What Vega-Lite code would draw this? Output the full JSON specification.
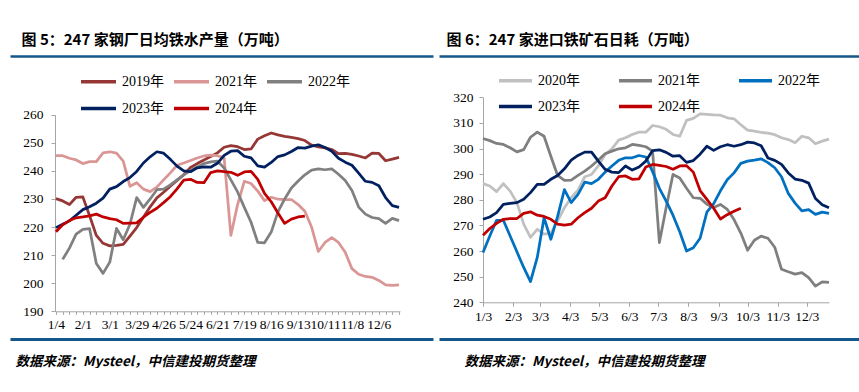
{
"$schema": "https://vega.github.io/schema/vega-lite/v6.json",
"background": "white",
"padding": {"left": 7, "top": 32, "right": 0, "bottom": 0},
"spacing": 0,
"resolve": {"scale": {"color": "independent"}, "legend": {"color": "independent"}},
"config": {
  "view": {"stroke": null},
  "axis": {"labelFont": "Liberation Serif, Noto Sans CJK SC", "labelFontSize": 13.5, "labelColor": "#000000", "domainColor": "#A6A6A6", "tickColor": "#A6A6A6", "grid": false},
  "legend": {"labelFont": "Liberation Serif, Noto Sans CJK SC", "labelFontSize": 14, "labelColor": "#000000", "symbolType": "stroke", "symbolSize": 1225, "symbolStrokeWidth": 3.5, "labelOffset": 4, "padding": 0}
},
"datasets": {
"left": [
{"s":"2019年","d":"2023-01-04","v":230.1},{"s":"2019年","d":"2023-01-11","v":229.3},{"s":"2019年","d":"2023-01-18","v":228.0},{"s":"2019年","d":"2023-01-25","v":230.6},{"s":"2019年","d":"2023-02-01","v":230.7},{"s":"2019年","d":"2023-02-08","v":224.0},{"s":"2019年","d":"2023-02-15","v":217.0},{"s":"2019年","d":"2023-02-22","v":214.2},{"s":"2019年","d":"2023-03-01","v":213.3},{"s":"2019年","d":"2023-03-08","v":213.5},{"s":"2019年","d":"2023-03-15","v":213.8},{"s":"2019年","d":"2023-03-22","v":216.8},{"s":"2019年","d":"2023-03-29","v":219.8},{"s":"2019年","d":"2023-04-05","v":223.5},{"s":"2019年","d":"2023-04-12","v":227.2},{"s":"2019年","d":"2023-04-19","v":230.4},{"s":"2019年","d":"2023-04-26","v":232.4},{"s":"2019年","d":"2023-05-03","v":234.5},{"s":"2019年","d":"2023-05-10","v":236.6},{"s":"2019年","d":"2023-05-17","v":238.6},{"s":"2019年","d":"2023-05-24","v":241.2},{"s":"2019年","d":"2023-05-31","v":242.6},{"s":"2019年","d":"2023-06-07","v":243.9},{"s":"2019年","d":"2023-06-14","v":245.1},{"s":"2019年","d":"2023-06-21","v":246.4},{"s":"2019年","d":"2023-06-28","v":248.4},{"s":"2019年","d":"2023-07-05","v":249.0},{"s":"2019年","d":"2023-07-12","v":248.6},{"s":"2019年","d":"2023-07-19","v":247.6},{"s":"2019年","d":"2023-07-26","v":247.8},{"s":"2019年","d":"2023-08-02","v":251.3},{"s":"2019年","d":"2023-08-09","v":252.5},{"s":"2019年","d":"2023-08-16","v":253.5},{"s":"2019年","d":"2023-08-23","v":252.8},{"s":"2019年","d":"2023-08-30","v":252.3},{"s":"2019年","d":"2023-09-06","v":251.9},{"s":"2019年","d":"2023-09-13","v":251.5},{"s":"2019年","d":"2023-09-20","v":250.8},{"s":"2019年","d":"2023-09-27","v":249.2},{"s":"2019年","d":"2023-10-04","v":248.5},{"s":"2019年","d":"2023-10-11","v":248.2},{"s":"2019年","d":"2023-10-18","v":247.6},{"s":"2019年","d":"2023-10-25","v":246.1},{"s":"2019年","d":"2023-11-01","v":246.2},{"s":"2019年","d":"2023-11-08","v":245.9},{"s":"2019年","d":"2023-11-15","v":245.3},{"s":"2019年","d":"2023-11-22","v":244.6},{"s":"2019年","d":"2023-11-29","v":246.3},{"s":"2019年","d":"2023-12-06","v":246.2},{"s":"2019年","d":"2023-12-13","v":243.6},{"s":"2019年","d":"2023-12-20","v":244.2},{"s":"2019年","d":"2023-12-27","v":244.8},
{"s":"2021年","d":"2023-01-04","v":245.4},{"s":"2021年","d":"2023-01-11","v":245.4},{"s":"2021年","d":"2023-01-18","v":244.5},{"s":"2021年","d":"2023-01-25","v":243.9},{"s":"2021年","d":"2023-02-01","v":242.6},{"s":"2021年","d":"2023-02-08","v":243.3},{"s":"2021年","d":"2023-02-15","v":243.3},{"s":"2021年","d":"2023-02-22","v":246.4},{"s":"2021年","d":"2023-03-01","v":246.8},{"s":"2021年","d":"2023-03-08","v":246.3},{"s":"2021年","d":"2023-03-15","v":243.5},{"s":"2021年","d":"2023-03-22","v":234.5},{"s":"2021年","d":"2023-03-29","v":235.8},{"s":"2021年","d":"2023-04-05","v":233.5},{"s":"2021年","d":"2023-04-12","v":232.6},{"s":"2021年","d":"2023-04-19","v":234.2},{"s":"2021年","d":"2023-04-26","v":236.8},{"s":"2021年","d":"2023-05-03","v":239.3},{"s":"2021年","d":"2023-05-10","v":242.0},{"s":"2021年","d":"2023-05-17","v":242.8},{"s":"2021年","d":"2023-05-24","v":243.7},{"s":"2021年","d":"2023-05-31","v":244.6},{"s":"2021年","d":"2023-06-07","v":245.3},{"s":"2021年","d":"2023-06-14","v":245.6},{"s":"2021年","d":"2023-06-21","v":245.4},{"s":"2021年","d":"2023-06-28","v":244.7},{"s":"2021年","d":"2023-07-05","v":217.0},{"s":"2021年","d":"2023-07-12","v":228.0},{"s":"2021年","d":"2023-07-19","v":236.3},{"s":"2021年","d":"2023-07-26","v":235.5},{"s":"2021年","d":"2023-08-02","v":232.8},{"s":"2021年","d":"2023-08-09","v":229.4},{"s":"2021年","d":"2023-08-16","v":230.6},{"s":"2021年","d":"2023-08-23","v":229.9},{"s":"2021年","d":"2023-08-30","v":229.8},{"s":"2021年","d":"2023-09-06","v":229.8},{"s":"2021年","d":"2023-09-13","v":228.0},{"s":"2021年","d":"2023-09-20","v":225.6},{"s":"2021年","d":"2023-09-27","v":220.0},{"s":"2021年","d":"2023-10-04","v":211.3},{"s":"2021年","d":"2023-10-11","v":214.5},{"s":"2021年","d":"2023-10-18","v":216.2},{"s":"2021年","d":"2023-10-25","v":214.5},{"s":"2021年","d":"2023-11-01","v":211.0},{"s":"2021年","d":"2023-11-08","v":205.2},{"s":"2021年","d":"2023-11-15","v":203.2},{"s":"2021年","d":"2023-11-22","v":202.4},{"s":"2021年","d":"2023-11-29","v":202.1},{"s":"2021年","d":"2023-12-06","v":201.0},{"s":"2021年","d":"2023-12-13","v":199.4},{"s":"2021年","d":"2023-12-20","v":199.2},{"s":"2021年","d":"2023-12-27","v":199.4},
{"s":"2022年","d":"2023-01-11","v":208.5},{"s":"2022年","d":"2023-01-18","v":212.5},{"s":"2022年","d":"2023-01-25","v":217.5},{"s":"2022年","d":"2023-02-01","v":219.2},{"s":"2022年","d":"2023-02-08","v":219.4},{"s":"2022年","d":"2023-02-15","v":207.0},{"s":"2022年","d":"2023-02-22","v":203.5},{"s":"2022年","d":"2023-03-01","v":207.5},{"s":"2022年","d":"2023-03-08","v":219.5},{"s":"2022年","d":"2023-03-15","v":215.5},{"s":"2022年","d":"2023-03-22","v":221.0},{"s":"2022年","d":"2023-03-29","v":230.5},{"s":"2022年","d":"2023-04-05","v":227.0},{"s":"2022年","d":"2023-04-12","v":230.0},{"s":"2022年","d":"2023-04-19","v":233.3},{"s":"2022年","d":"2023-04-26","v":233.5},{"s":"2022年","d":"2023-05-03","v":235.0},{"s":"2022年","d":"2023-05-10","v":236.8},{"s":"2022年","d":"2023-05-17","v":238.6},{"s":"2022年","d":"2023-05-24","v":240.1},{"s":"2022年","d":"2023-05-31","v":241.4},{"s":"2022年","d":"2023-06-07","v":242.6},{"s":"2022年","d":"2023-06-14","v":243.2},{"s":"2022年","d":"2023-06-21","v":243.5},{"s":"2022年","d":"2023-06-28","v":241.0},{"s":"2022年","d":"2023-07-05","v":236.8},{"s":"2022年","d":"2023-07-12","v":232.5},{"s":"2022年","d":"2023-07-19","v":227.0},{"s":"2022年","d":"2023-07-26","v":221.7},{"s":"2022年","d":"2023-08-02","v":214.5},{"s":"2022年","d":"2023-08-09","v":214.4},{"s":"2022年","d":"2023-08-16","v":218.2},{"s":"2022年","d":"2023-08-23","v":225.4},{"s":"2022年","d":"2023-08-30","v":230.0},{"s":"2022年","d":"2023-09-06","v":233.9},{"s":"2022年","d":"2023-09-13","v":236.4},{"s":"2022年","d":"2023-09-20","v":238.6},{"s":"2022年","d":"2023-09-27","v":240.3},{"s":"2022年","d":"2023-10-04","v":240.7},{"s":"2022年","d":"2023-10-11","v":240.4},{"s":"2022年","d":"2023-10-18","v":240.7},{"s":"2022年","d":"2023-10-25","v":238.8},{"s":"2022年","d":"2023-11-01","v":236.6},{"s":"2022年","d":"2023-11-08","v":233.0},{"s":"2022年","d":"2023-11-15","v":227.1},{"s":"2022年","d":"2023-11-22","v":224.6},{"s":"2022年","d":"2023-11-29","v":223.4},{"s":"2022年","d":"2023-12-06","v":223.0},{"s":"2022年","d":"2023-12-13","v":221.3},{"s":"2022年","d":"2023-12-20","v":223.1},{"s":"2022年","d":"2023-12-27","v":222.3},
{"s":"2023年","d":"2023-01-04","v":219.8},{"s":"2023年","d":"2023-01-11","v":221.0},{"s":"2023年","d":"2023-01-18","v":222.2},{"s":"2023年","d":"2023-01-25","v":224.2},{"s":"2023年","d":"2023-02-01","v":226.2},{"s":"2023年","d":"2023-02-08","v":227.2},{"s":"2023年","d":"2023-02-15","v":228.5},{"s":"2023年","d":"2023-02-22","v":230.3},{"s":"2023年","d":"2023-03-01","v":233.5},{"s":"2023年","d":"2023-03-08","v":234.4},{"s":"2023年","d":"2023-03-15","v":236.2},{"s":"2023年","d":"2023-03-22","v":237.6},{"s":"2023年","d":"2023-03-29","v":239.8},{"s":"2023年","d":"2023-04-05","v":242.8},{"s":"2023年","d":"2023-04-12","v":245.0},{"s":"2023年","d":"2023-04-19","v":246.8},{"s":"2023年","d":"2023-04-26","v":246.3},{"s":"2023年","d":"2023-05-03","v":244.1},{"s":"2023年","d":"2023-05-10","v":241.7},{"s":"2023年","d":"2023-05-17","v":240.0},{"s":"2023年","d":"2023-05-24","v":239.7},{"s":"2023年","d":"2023-05-31","v":241.1},{"s":"2023年","d":"2023-06-07","v":241.4},{"s":"2023年","d":"2023-06-14","v":241.3},{"s":"2023年","d":"2023-06-21","v":242.7},{"s":"2023年","d":"2023-06-28","v":245.5},{"s":"2023年","d":"2023-07-05","v":247.0},{"s":"2023年","d":"2023-07-12","v":247.2},{"s":"2023年","d":"2023-07-19","v":245.2},{"s":"2023年","d":"2023-07-26","v":244.6},{"s":"2023年","d":"2023-08-02","v":241.8},{"s":"2023年","d":"2023-08-09","v":241.3},{"s":"2023年","d":"2023-08-16","v":243.0},{"s":"2023年","d":"2023-08-23","v":245.1},{"s":"2023年","d":"2023-08-30","v":245.7},{"s":"2023年","d":"2023-09-06","v":246.9},{"s":"2023年","d":"2023-09-13","v":248.3},{"s":"2023年","d":"2023-09-20","v":248.1},{"s":"2023年","d":"2023-09-27","v":248.8},{"s":"2023年","d":"2023-10-04","v":249.3},{"s":"2023年","d":"2023-10-11","v":248.3},{"s":"2023年","d":"2023-10-18","v":247.0},{"s":"2023年","d":"2023-10-25","v":244.5},{"s":"2023年","d":"2023-11-01","v":243.1},{"s":"2023年","d":"2023-11-08","v":242.0},{"s":"2023年","d":"2023-11-15","v":239.2},{"s":"2023年","d":"2023-11-22","v":236.3},{"s":"2023年","d":"2023-11-29","v":235.9},{"s":"2023年","d":"2023-12-06","v":234.7},{"s":"2023年","d":"2023-12-13","v":230.5},{"s":"2023年","d":"2023-12-20","v":227.6},{"s":"2023年","d":"2023-12-27","v":227.0},
{"s":"2024年","d":"2023-01-04","v":218.3},{"s":"2024年","d":"2023-01-11","v":220.8},{"s":"2024年","d":"2023-01-18","v":222.3},{"s":"2024年","d":"2023-01-25","v":223.3},{"s":"2024年","d":"2023-02-01","v":223.6},{"s":"2024年","d":"2023-02-08","v":224.0},{"s":"2024年","d":"2023-02-15","v":224.6},{"s":"2024年","d":"2023-02-22","v":223.6},{"s":"2024年","d":"2023-03-01","v":223.0},{"s":"2024年","d":"2023-03-08","v":222.6},{"s":"2024年","d":"2023-03-15","v":221.3},{"s":"2024年","d":"2023-03-22","v":221.4},{"s":"2024年","d":"2023-03-29","v":221.5},{"s":"2024年","d":"2023-04-05","v":223.5},{"s":"2024年","d":"2023-04-12","v":225.2},{"s":"2024年","d":"2023-04-19","v":226.7},{"s":"2024年","d":"2023-04-26","v":228.7},{"s":"2024年","d":"2023-05-03","v":230.8},{"s":"2024年","d":"2023-05-10","v":233.6},{"s":"2024年","d":"2023-05-17","v":236.7},{"s":"2024年","d":"2023-05-24","v":237.0},{"s":"2024年","d":"2023-05-31","v":235.9},{"s":"2024年","d":"2023-06-07","v":235.8},{"s":"2024年","d":"2023-06-14","v":239.4},{"s":"2024年","d":"2023-06-21","v":240.0},{"s":"2024年","d":"2023-06-28","v":239.7},{"s":"2024年","d":"2023-07-05","v":239.5},{"s":"2024年","d":"2023-07-12","v":238.4},{"s":"2024年","d":"2023-07-19","v":239.6},{"s":"2024年","d":"2023-07-26","v":239.8},{"s":"2024年","d":"2023-08-02","v":237.0},{"s":"2024年","d":"2023-08-09","v":232.0},{"s":"2024年","d":"2023-08-16","v":229.0},{"s":"2024年","d":"2023-08-23","v":225.0},{"s":"2024年","d":"2023-08-30","v":221.3},{"s":"2024年","d":"2023-09-06","v":222.8},{"s":"2024年","d":"2023-09-13","v":223.6},{"s":"2024年","d":"2023-09-20","v":223.9}
],
"right": [
{"s":"2020年","d":"2023-01-03","v":286.3},{"s":"2020年","d":"2023-01-10","v":285.4},{"s":"2020年","d":"2023-01-17","v":283.2},{"s":"2020年","d":"2023-01-24","v":286.3},{"s":"2020年","d":"2023-01-31","v":283.4},{"s":"2020年","d":"2023-02-07","v":278.9},{"s":"2020年","d":"2023-02-14","v":270.5},{"s":"2020年","d":"2023-02-21","v":265.3},{"s":"2020年","d":"2023-02-28","v":268.5},{"s":"2020年","d":"2023-03-07","v":266.6},{"s":"2020年","d":"2023-03-14","v":267.0},{"s":"2020年","d":"2023-03-21","v":271.8},{"s":"2020年","d":"2023-03-28","v":276.9},{"s":"2020年","d":"2023-04-04","v":280.8},{"s":"2020年","d":"2023-04-11","v":283.8},{"s":"2020年","d":"2023-04-18","v":289.0},{"s":"2020年","d":"2023-04-25","v":289.9},{"s":"2020年","d":"2023-05-02","v":293.2},{"s":"2020年","d":"2023-05-09","v":297.7},{"s":"2020年","d":"2023-05-16","v":299.9},{"s":"2020年","d":"2023-05-23","v":303.3},{"s":"2020年","d":"2023-05-30","v":304.2},{"s":"2020年","d":"2023-06-06","v":305.5},{"s":"2020年","d":"2023-06-13","v":306.4},{"s":"2020年","d":"2023-06-20","v":306.4},{"s":"2020年","d":"2023-06-27","v":309.0},{"s":"2020年","d":"2023-07-04","v":308.5},{"s":"2020年","d":"2023-07-11","v":307.5},{"s":"2020年","d":"2023-07-18","v":305.5},{"s":"2020年","d":"2023-07-25","v":304.8},{"s":"2020年","d":"2023-08-01","v":311.0},{"s":"2020年","d":"2023-08-08","v":311.8},{"s":"2020年","d":"2023-08-15","v":313.5},{"s":"2020年","d":"2023-08-22","v":313.3},{"s":"2020年","d":"2023-08-29","v":313.1},{"s":"2020年","d":"2023-09-05","v":313.0},{"s":"2020年","d":"2023-09-12","v":312.0},{"s":"2020年","d":"2023-09-19","v":311.6},{"s":"2020年","d":"2023-09-26","v":309.3},{"s":"2020年","d":"2023-10-03","v":307.2},{"s":"2020年","d":"2023-10-10","v":306.8},{"s":"2020年","d":"2023-10-17","v":306.3},{"s":"2020年","d":"2023-10-24","v":306.0},{"s":"2020年","d":"2023-10-31","v":305.4},{"s":"2020年","d":"2023-11-07","v":304.2},{"s":"2020年","d":"2023-11-14","v":303.5},{"s":"2020年","d":"2023-11-21","v":302.3},{"s":"2020年","d":"2023-11-28","v":304.8},{"s":"2020年","d":"2023-12-05","v":304.2},{"s":"2020年","d":"2023-12-12","v":301.9},{"s":"2020年","d":"2023-12-19","v":302.9},{"s":"2020年","d":"2023-12-26","v":303.7},
{"s":"2021年","d":"2023-01-03","v":303.9},{"s":"2021年","d":"2023-01-10","v":303.1},{"s":"2021年","d":"2023-01-17","v":302.0},{"s":"2021年","d":"2023-01-24","v":301.6},{"s":"2021年","d":"2023-01-31","v":300.3},{"s":"2021年","d":"2023-02-07","v":298.7},{"s":"2021年","d":"2023-02-14","v":299.6},{"s":"2021年","d":"2023-02-21","v":304.4},{"s":"2021年","d":"2023-02-28","v":306.4},{"s":"2021年","d":"2023-03-07","v":304.8},{"s":"2021年","d":"2023-03-14","v":297.0},{"s":"2021年","d":"2023-03-21","v":289.5},{"s":"2021年","d":"2023-03-28","v":287.6},{"s":"2021年","d":"2023-04-04","v":287.7},{"s":"2021年","d":"2023-04-11","v":289.5},{"s":"2021年","d":"2023-04-18","v":291.2},{"s":"2021年","d":"2023-04-25","v":293.2},{"s":"2021年","d":"2023-05-02","v":295.5},{"s":"2021年","d":"2023-05-09","v":298.0},{"s":"2021年","d":"2023-05-16","v":299.0},{"s":"2021年","d":"2023-05-23","v":299.9},{"s":"2021年","d":"2023-05-30","v":300.3},{"s":"2021年","d":"2023-06-06","v":301.6},{"s":"2021年","d":"2023-06-13","v":301.2},{"s":"2021年","d":"2023-06-20","v":300.7},{"s":"2021年","d":"2023-06-27","v":299.0},{"s":"2021年","d":"2023-07-04","v":263.3},{"s":"2021年","d":"2023-07-11","v":277.0},{"s":"2021年","d":"2023-07-18","v":289.9},{"s":"2021年","d":"2023-07-25","v":288.5},{"s":"2021年","d":"2023-08-01","v":284.5},{"s":"2021年","d":"2023-08-08","v":280.8},{"s":"2021年","d":"2023-08-15","v":280.6},{"s":"2021年","d":"2023-08-22","v":278.3},{"s":"2021年","d":"2023-08-29","v":277.0},{"s":"2021年","d":"2023-09-05","v":278.2},{"s":"2021年","d":"2023-09-12","v":276.3},{"s":"2021年","d":"2023-09-19","v":272.3},{"s":"2021年","d":"2023-09-26","v":267.0},{"s":"2021年","d":"2023-10-03","v":260.3},{"s":"2021年","d":"2023-10-10","v":264.2},{"s":"2021年","d":"2023-10-17","v":265.8},{"s":"2021年","d":"2023-10-24","v":265.0},{"s":"2021年","d":"2023-10-31","v":261.5},{"s":"2021年","d":"2023-11-07","v":252.9},{"s":"2021年","d":"2023-11-14","v":251.9},{"s":"2021年","d":"2023-11-21","v":251.0},{"s":"2021年","d":"2023-11-28","v":251.6},{"s":"2021年","d":"2023-12-05","v":249.6},{"s":"2021年","d":"2023-12-12","v":246.3},{"s":"2021年","d":"2023-12-19","v":248.0},{"s":"2021年","d":"2023-12-26","v":247.8},
{"s":"2022年","d":"2023-01-03","v":259.4},{"s":"2022年","d":"2023-01-10","v":265.9},{"s":"2022年","d":"2023-01-17","v":272.0},{"s":"2022年","d":"2023-01-24","v":272.0},{"s":"2022年","d":"2023-01-31","v":265.9},{"s":"2022年","d":"2023-02-07","v":259.7},{"s":"2022年","d":"2023-02-14","v":253.6},{"s":"2022年","d":"2023-02-21","v":248.1},{"s":"2022年","d":"2023-02-28","v":257.5},{"s":"2022年","d":"2023-03-07","v":273.0},{"s":"2022年","d":"2023-03-14","v":264.6},{"s":"2022年","d":"2023-03-21","v":273.5},{"s":"2022年","d":"2023-03-28","v":284.0},{"s":"2022年","d":"2023-04-04","v":278.9},{"s":"2022年","d":"2023-04-11","v":282.1},{"s":"2022年","d":"2023-04-18","v":286.9},{"s":"2022年","d":"2023-04-25","v":286.3},{"s":"2022年","d":"2023-05-02","v":288.0},{"s":"2022年","d":"2023-05-09","v":290.8},{"s":"2022年","d":"2023-05-16","v":293.2},{"s":"2022年","d":"2023-05-23","v":295.4},{"s":"2022年","d":"2023-05-30","v":296.4},{"s":"2022年","d":"2023-06-06","v":296.4},{"s":"2022年","d":"2023-06-13","v":297.3},{"s":"2022年","d":"2023-06-20","v":296.7},{"s":"2022年","d":"2023-06-27","v":291.0},{"s":"2022年","d":"2023-07-04","v":284.5},{"s":"2022年","d":"2023-07-11","v":279.5},{"s":"2022年","d":"2023-07-18","v":274.0},{"s":"2022年","d":"2023-07-25","v":267.5},{"s":"2022年","d":"2023-08-01","v":260.0},{"s":"2022年","d":"2023-08-08","v":261.3},{"s":"2022年","d":"2023-08-15","v":265.0},{"s":"2022年","d":"2023-08-22","v":275.2},{"s":"2022年","d":"2023-08-29","v":278.5},{"s":"2022年","d":"2023-09-05","v":283.5},{"s":"2022年","d":"2023-09-12","v":287.8},{"s":"2022年","d":"2023-09-19","v":290.5},{"s":"2022年","d":"2023-09-26","v":294.2},{"s":"2022年","d":"2023-10-03","v":295.1},{"s":"2022年","d":"2023-10-10","v":295.5},{"s":"2022年","d":"2023-10-17","v":296.0},{"s":"2022年","d":"2023-10-24","v":294.5},{"s":"2022年","d":"2023-10-31","v":292.5},{"s":"2022年","d":"2023-11-07","v":289.0},{"s":"2022年","d":"2023-11-14","v":282.5},{"s":"2022年","d":"2023-11-21","v":278.7},{"s":"2022年","d":"2023-11-28","v":275.7},{"s":"2022年","d":"2023-12-05","v":276.2},{"s":"2022年","d":"2023-12-12","v":274.3},{"s":"2022年","d":"2023-12-19","v":275.2},{"s":"2022年","d":"2023-12-26","v":274.7},
{"s":"2023年","d":"2023-01-03","v":272.4},{"s":"2023年","d":"2023-01-10","v":273.3},{"s":"2023年","d":"2023-01-17","v":275.0},{"s":"2023年","d":"2023-01-24","v":278.2},{"s":"2023年","d":"2023-01-31","v":278.6},{"s":"2023年","d":"2023-02-07","v":278.9},{"s":"2023年","d":"2023-02-14","v":280.2},{"s":"2023年","d":"2023-02-21","v":282.8},{"s":"2023年","d":"2023-02-28","v":286.0},{"s":"2023年","d":"2023-03-07","v":286.0},{"s":"2023年","d":"2023-03-14","v":288.0},{"s":"2023年","d":"2023-03-21","v":289.5},{"s":"2023年","d":"2023-03-28","v":292.1},{"s":"2023年","d":"2023-04-04","v":295.5},{"s":"2023年","d":"2023-04-11","v":297.3},{"s":"2023年","d":"2023-04-18","v":298.6},{"s":"2023年","d":"2023-04-25","v":298.6},{"s":"2023年","d":"2023-05-02","v":295.1},{"s":"2023年","d":"2023-05-09","v":291.9},{"s":"2023年","d":"2023-05-16","v":290.8},{"s":"2023年","d":"2023-05-23","v":290.6},{"s":"2023年","d":"2023-05-30","v":293.2},{"s":"2023年","d":"2023-06-06","v":291.6},{"s":"2023年","d":"2023-06-13","v":292.8},{"s":"2023年","d":"2023-06-20","v":295.1},{"s":"2023年","d":"2023-06-27","v":299.2},{"s":"2023年","d":"2023-07-04","v":299.5},{"s":"2023年","d":"2023-07-11","v":298.5},{"s":"2023年","d":"2023-07-18","v":297.0},{"s":"2023年","d":"2023-07-25","v":297.2},{"s":"2023年","d":"2023-08-01","v":294.6},{"s":"2023年","d":"2023-08-08","v":295.3},{"s":"2023年","d":"2023-08-15","v":297.8},{"s":"2023年","d":"2023-08-22","v":300.9},{"s":"2023年","d":"2023-08-29","v":299.3},{"s":"2023年","d":"2023-09-05","v":300.7},{"s":"2023年","d":"2023-09-12","v":301.5},{"s":"2023年","d":"2023-09-19","v":300.9},{"s":"2023年","d":"2023-09-26","v":301.5},{"s":"2023年","d":"2023-10-03","v":302.5},{"s":"2023年","d":"2023-10-10","v":302.2},{"s":"2023年","d":"2023-10-17","v":301.1},{"s":"2023年","d":"2023-10-24","v":296.3},{"s":"2023年","d":"2023-10-31","v":295.4},{"s":"2023年","d":"2023-11-07","v":293.8},{"s":"2023年","d":"2023-11-14","v":290.5},{"s":"2023年","d":"2023-11-21","v":288.1},{"s":"2023年","d":"2023-11-28","v":287.6},{"s":"2023年","d":"2023-12-05","v":286.5},{"s":"2023年","d":"2023-12-12","v":280.5},{"s":"2023年","d":"2023-12-19","v":278.1},{"s":"2023年","d":"2023-12-26","v":276.9},
{"s":"2024年","d":"2023-01-03","v":266.2},{"s":"2024年","d":"2023-01-10","v":268.8},{"s":"2024年","d":"2023-01-17","v":270.8},{"s":"2024年","d":"2023-01-24","v":272.4},{"s":"2024年","d":"2023-01-31","v":272.7},{"s":"2024年","d":"2023-02-07","v":272.7},{"s":"2024年","d":"2023-02-14","v":274.7},{"s":"2024年","d":"2023-02-21","v":275.3},{"s":"2024年","d":"2023-02-28","v":274.0},{"s":"2024年","d":"2023-03-07","v":273.5},{"s":"2024年","d":"2023-03-14","v":272.4},{"s":"2024年","d":"2023-03-21","v":270.5},{"s":"2024年","d":"2023-03-28","v":270.1},{"s":"2024年","d":"2023-04-04","v":270.5},{"s":"2024年","d":"2023-04-11","v":273.0},{"s":"2024年","d":"2023-04-18","v":275.0},{"s":"2024年","d":"2023-04-25","v":276.7},{"s":"2024年","d":"2023-05-02","v":279.5},{"s":"2024年","d":"2023-05-09","v":280.8},{"s":"2024年","d":"2023-05-16","v":285.4},{"s":"2024年","d":"2023-05-23","v":289.0},{"s":"2024年","d":"2023-05-30","v":289.3},{"s":"2024年","d":"2023-06-06","v":288.0},{"s":"2024年","d":"2023-06-13","v":288.2},{"s":"2024年","d":"2023-06-20","v":292.8},{"s":"2024年","d":"2023-06-27","v":293.8},{"s":"2024年","d":"2023-07-04","v":293.4},{"s":"2024年","d":"2023-07-11","v":293.0},{"s":"2024年","d":"2023-07-18","v":291.9},{"s":"2024年","d":"2023-07-25","v":293.2},{"s":"2024年","d":"2023-08-01","v":293.3},{"s":"2024年","d":"2023-08-08","v":290.8},{"s":"2024年","d":"2023-08-15","v":283.6},{"s":"2024年","d":"2023-08-22","v":280.2},{"s":"2024年","d":"2023-08-29","v":276.7},{"s":"2024年","d":"2023-09-05","v":272.5},{"s":"2024年","d":"2023-09-12","v":274.2},{"s":"2024年","d":"2023-09-19","v":275.5},{"s":"2024年","d":"2023-09-26","v":276.7}
]
},
"hconcat": [
{
  "width": 423, "height": 283,
  "data": {"name": "left"},
  "layer": [
    {
      "mark": {"type": "line", "strokeWidth": 2.75, "strokeJoin": "round"},
      "encoding": {
        "x": {"field": "d", "type": "temporal",
          "scale": {"type": "utc", "domain": [{"year": 2023, "month": 1, "date": 3, "utc": true}, {"year": 2023, "month": 12, "date": 28, "utc": true}], "range": [45, 390]},
          "axis": {"orient": "bottom", "offset": -27.7, "title": null, "format": "%-m/%-d", "tickSize": 3, "labelPadding": 3, "labelOverlap": false, "labelFlush": false, "labelBound": false,
            "labelExpr": "round((datum.value - utc(2023,0,4)) / 604800000) % 4 == 0 ? datum.label : ''",
            "values": [
              {"year":2023,"month":1,"date":4,"utc":true},{"year":2023,"month":1,"date":11,"utc":true},{"year":2023,"month":1,"date":18,"utc":true},{"year":2023,"month":1,"date":25,"utc":true},
              {"year":2023,"month":2,"date":1,"utc":true},{"year":2023,"month":2,"date":8,"utc":true},{"year":2023,"month":2,"date":15,"utc":true},{"year":2023,"month":2,"date":22,"utc":true},
              {"year":2023,"month":3,"date":1,"utc":true},{"year":2023,"month":3,"date":8,"utc":true},{"year":2023,"month":3,"date":15,"utc":true},{"year":2023,"month":3,"date":22,"utc":true},{"year":2023,"month":3,"date":29,"utc":true},
              {"year":2023,"month":4,"date":5,"utc":true},{"year":2023,"month":4,"date":12,"utc":true},{"year":2023,"month":4,"date":19,"utc":true},{"year":2023,"month":4,"date":26,"utc":true},
              {"year":2023,"month":5,"date":3,"utc":true},{"year":2023,"month":5,"date":10,"utc":true},{"year":2023,"month":5,"date":17,"utc":true},{"year":2023,"month":5,"date":24,"utc":true},{"year":2023,"month":5,"date":31,"utc":true},
              {"year":2023,"month":6,"date":7,"utc":true},{"year":2023,"month":6,"date":14,"utc":true},{"year":2023,"month":6,"date":21,"utc":true},{"year":2023,"month":6,"date":28,"utc":true},
              {"year":2023,"month":7,"date":5,"utc":true},{"year":2023,"month":7,"date":12,"utc":true},{"year":2023,"month":7,"date":19,"utc":true},{"year":2023,"month":7,"date":26,"utc":true},
              {"year":2023,"month":8,"date":2,"utc":true},{"year":2023,"month":8,"date":9,"utc":true},{"year":2023,"month":8,"date":16,"utc":true},{"year":2023,"month":8,"date":23,"utc":true},{"year":2023,"month":8,"date":30,"utc":true},
              {"year":2023,"month":9,"date":6,"utc":true},{"year":2023,"month":9,"date":13,"utc":true},{"year":2023,"month":9,"date":20,"utc":true},{"year":2023,"month":9,"date":27,"utc":true},
              {"year":2023,"month":10,"date":4,"utc":true},{"year":2023,"month":10,"date":11,"utc":true},{"year":2023,"month":10,"date":18,"utc":true},{"year":2023,"month":10,"date":25,"utc":true},
              {"year":2023,"month":11,"date":1,"utc":true},{"year":2023,"month":11,"date":8,"utc":true},{"year":2023,"month":11,"date":15,"utc":true},{"year":2023,"month":11,"date":22,"utc":true},{"year":2023,"month":11,"date":29,"utc":true},
              {"year":2023,"month":12,"date":6,"utc":true},{"year":2023,"month":12,"date":13,"utc":true},{"year":2023,"month":12,"date":20,"utc":true},{"year":2023,"month":12,"date":27,"utc":true}
            ]}},
        "y": {"field": "v", "type": "quantitative",
          "scale": {"domain": [190, 260], "range": [255.3, 58.7], "zero": false, "nice": false},
          "axis": {"orient": "left", "offset": -45, "title": null, "values": [190, 200, 210, 220, 230, 240, 250, 260], "tickSize": 4, "labelPadding": 8}},
        "color": {"field": "s", "type": "nominal",
          "scale": {"domain": ["2019年", "2021年", "2022年", "2023年", "2024年"], "range": ["#953735", "#DA9694", "#808080", "#002060", "#C00000"]},
          "legend": {"orient": "none", "legendX": 69, "legendY": 6, "direction": "horizontal", "columns": 3, "title": null, "columnPadding": 3, "rowPadding": -2}}
      }
    },
    {
      "mark": {"type": "point", "opacity": 0},
      "encoding": {
        "x": {"field": "d", "type": "temporal",
          "axis": {"orient": "top", "title": "图 5：247 家钢厂日均铁水产量（万吨）", "domainColor": "#15578A", "domainWidth": 2.5, "ticks": false, "labels": false,
            "titleX": 11, "titleY": -17, "titleAlign": "left", "titleBaseline": "middle", "titleFont": "Noto Sans CJK SC", "titleFontSize": 15, "titleFontWeight": "bold", "titleColor": "#000000"}}
      }
    },
    {
      "mark": {"type": "point", "opacity": 0},
      "encoding": {
        "x": {"field": "d", "type": "temporal",
          "axis": {"orient": "bottom", "title": "数据来源：Mysteel，中信建投期货整理", "domainColor": "#15578A", "domainWidth": 3, "ticks": false, "labels": false,
            "titleX": 5, "titleY": 22, "titleAlign": "left", "titleBaseline": "middle", "titleFont": "Noto Sans CJK SC", "titleFontSize": 13.5, "titleFontWeight": "bold", "titleFontStyle": "italic", "titleColor": "#000000"}}
      }
    }
  ],
  "resolve": {"scale": {"x": "independent"}, "axis": {"x": "independent"}}
},
{
  "width": 420, "height": 283,
  "data": {"name": "right"},
  "layer": [
    {
      "mark": {"type": "line", "strokeWidth": 2.75, "strokeJoin": "round"},
      "encoding": {
        "x": {"field": "d", "type": "temporal",
          "scale": {"type": "utc", "domain": [{"year": 2023, "month": 1, "date": 3, "utc": true}, {"year": 2023, "month": 12, "date": 26, "utc": true}], "range": [44, 390]},
          "axis": {"orient": "bottom", "offset": -36.7, "title": null, "format": "%-m/%-d", "tickSize": 4, "labelPadding": 3, "labelOverlap": false, "labelFlush": false, "labelBound": false,
            "values": [
              {"year":2023,"month":1,"date":3,"utc":true},{"year":2023,"month":2,"date":3,"utc":true},{"year":2023,"month":3,"date":3,"utc":true},{"year":2023,"month":4,"date":3,"utc":true},
              {"year":2023,"month":5,"date":3,"utc":true},{"year":2023,"month":6,"date":3,"utc":true},{"year":2023,"month":7,"date":3,"utc":true},{"year":2023,"month":8,"date":3,"utc":true},
              {"year":2023,"month":9,"date":3,"utc":true},{"year":2023,"month":10,"date":3,"utc":true},{"year":2023,"month":11,"date":3,"utc":true},{"year":2023,"month":12,"date":3,"utc":true}
            ]}},
        "y": {"field": "v", "type": "quantitative",
          "scale": {"domain": [240, 320], "range": [246.3, 41.3], "zero": false, "nice": false},
          "axis": {"orient": "left", "offset": -44, "title": null, "values": [240, 250, 260, 270, 280, 290, 300, 310, 320], "tickSize": 4, "labelPadding": 6}},
        "color": {"field": "s", "type": "nominal",
          "scale": {"domain": ["2020年", "2021年", "2022年", "2023年", "2024年"], "range": ["#C0C0C0", "#7F7F7F", "#0070C0", "#002060", "#C00000"]},
          "legend": {"orient": "none", "legendX": 58, "legendY": 6, "direction": "horizontal", "columns": 3, "title": null, "columnPadding": 32, "rowPadding": -9, "symbolSize": 1089}}
      }
    },
    {
      "mark": {"type": "point", "opacity": 0},
      "encoding": {
        "x": {"field": "d", "type": "temporal",
          "axis": {"orient": "top", "title": "图 6：247 家进口铁矿石日耗（万吨）", "domainColor": "#15578A", "domainWidth": 2.5, "ticks": false, "labels": false,
            "titleX": 7, "titleY": -17, "titleAlign": "left", "titleBaseline": "middle", "titleFont": "Noto Sans CJK SC", "titleFontSize": 15, "titleFontWeight": "bold", "titleColor": "#000000"}}
      }
    },
    {
      "mark": {"type": "point", "opacity": 0},
      "encoding": {
        "x": {"field": "d", "type": "temporal",
          "axis": {"orient": "bottom", "title": "数据来源：Mysteel，中信建投期货整理", "domainColor": "#15578A", "domainWidth": 3, "ticks": false, "labels": false,
            "titleX": 25, "titleY": 22, "titleAlign": "left", "titleBaseline": "middle", "titleFont": "Noto Sans CJK SC", "titleFontSize": 13.5, "titleFontWeight": "bold", "titleFontStyle": "italic", "titleColor": "#000000"}}
      }
    }
  ],
  "resolve": {"scale": {"x": "independent"}, "axis": {"x": "independent"}}
}
]
}
